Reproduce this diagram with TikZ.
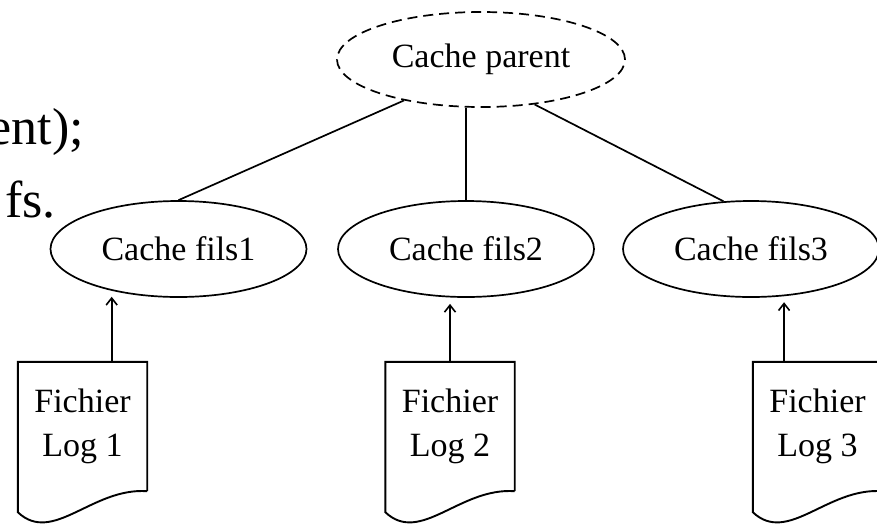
\documentclass[tikz,border=0pt]{standalone}
\usepackage{fontspec}
\setmainfont{Liberation Serif}
\usetikzlibrary{shapes.geometric,calc,arrows.meta}
\tikzset{
  cache/.style={ellipse, draw, line width=1.7pt, minimum width=256pt, minimum height=96pt, font=\fontsize{34}{44}\selectfont},
  logfile/.style={rectangle, minimum width=129pt, minimum height=129pt, align=center, inner sep=0pt, font=\fontsize{34}{44}\selectfont},
  link/.style={line width=1.7pt},
  uparrow/.style={line width=1.7pt, -{Straight Barb[length=7pt,width=11pt,line width=1.6pt]}, shorten >=6pt},
  slidetext/.style={anchor=base east, inner sep=0pt, font=\fontsize{52}{62}\selectfont}
}

\begin{document}
\begin{tikzpicture}[x=1pt,y=-1pt]
  \useasboundingbox (0,0) rectangle (877,523);
  \clip (0,0) rectangle (877,523);
  % what is left of the slide text
  \node[slidetext] (txtA) at (84,144) {ent);};
  \node[slidetext] (txtB) at (56,217) {fs.};
  % caches
  \node[cache, dash pattern=on 10pt off 6pt, minimum width=288pt, minimum height=95pt] (parent) at (481,59.5) {Cache parent};
  \node[cache] (fils1) at (178.5,249) {Cache fils1};
  \node[cache] (fils2) at (466,249) {Cache fils2};
  \node[cache] (fils3) at (751,249) {Cache fils3};
  \draw[link] (parent.-152) -- (fils1.north);
  \draw[link] (fils2.north |- parent.south) -- (fils2.north);
  \draw[link] (parent.-40) -- (fils3.120);
  % log files
  \node[logfile] (log1) at (82.5,426.5) {Fichier\\Log 1};
  \node[logfile] (log2) at (450,426.5) {Fichier\\Log 2};
  \node[logfile] (log3) at (817.5,426.5) {Fichier\\Log 3};
  \foreach \i in {1,2,3}
    \draw[line width=1.9pt] (log\i.south east) -- (log\i.north east) -- (log\i.north west) -- ($(log\i.south west)+(0,21)$)
      .. controls ($(log\i.south west)+(35,54)$) and ($(log\i.south east)+(-55,-4)$) .. (log\i.south east);
  \draw[uparrow] (log1.north -| fils1.-148) -- (fils1.-148);
  \draw[uparrow] (log2.north) -- (log2.north |- fils2.south);
  \draw[uparrow] (log3.north -| fils3.-55) -- (fils3.-55);
\end{tikzpicture}
\end{document}
